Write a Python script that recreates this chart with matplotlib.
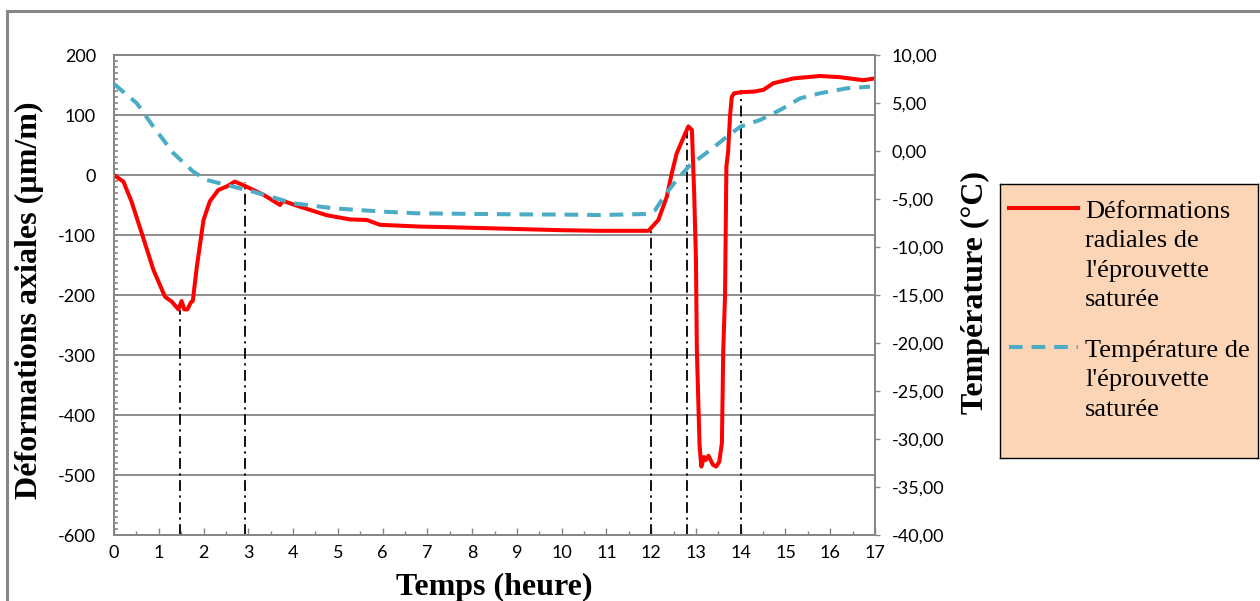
import numpy as np
import matplotlib
matplotlib.use("Agg")
import matplotlib.pyplot as plt
from matplotlib.patches import Rectangle
from matplotlib.lines import Line2D
from matplotlib.ticker import MultipleLocator, FuncFormatter

# --- donnees ---
t_def = [0, 0.21, 0.39, 0.62, 0.88, 1.14, 1.29, 1.44, 1.51, 1.57, 1.64, 1.72, 1.76,
         1.85, 2.0, 2.14, 2.33, 2.52, 2.70, 2.89, 3.34, 3.71, 3.77, 4.16, 4.75, 5.27,
         5.65, 5.94, 6.84, 7.5, 8.0, 8.5, 9.0, 9.5, 10.0, 10.86, 11.94, 12.16, 12.35,
         12.46, 12.57, 12.76, 12.83, 12.91, 12.96, 13.0, 13.02, 13.08, 13.12, 13.18,
         13.22, 13.28, 13.38, 13.45, 13.52, 13.58, 13.61, 13.65, 13.68, 13.72, 13.76,
         13.80, 13.85, 14.0, 14.3, 14.51, 14.73, 15.18, 15.77, 16.22, 16.74, 17.0]
deform = [0, -11, -44, -97, -158, -203, -211, -224, -210, -224, -224, -212, -210,
          -153, -75, -44, -25, -19, -11, -17, -33, -50, -43, -53, -67, -74,
          -75, -83, -86, -87, -88, -89, -90, -91, -92, -93, -93, -75, -36,
          3, 36, 69, 81, 75, -30, -140, -290, -450, -486, -470,
          -475, -468, -483, -486, -478, -447, -292, -200, 14, 40, 97,
          130, 136, 138, 139, 142, 153, 161, 165, 163, 158, 161]

t_temp = [0.0, 0.02, 0.51, 0.88, 1.33, 1.77, 2.07, 2.52, 3.11, 4.01, 4.90, 6.02, 6.76,
          8.0, 9.0, 10.0, 10.86, 11.9, 12.09, 12.31, 12.57, 12.87, 13.32, 13.69,
          13.99, 14.43, 14.88, 15.33, 15.77, 16.37, 16.89]
temp = [7.0, 6.9, 4.97, 2.53, -0.24, -2.15, -3.02, -3.54, -4.24, -5.45, -5.97, -6.32,
        -6.49, -6.55, -6.6, -6.62, -6.67, -6.56, -6.15, -4.58, -3.02, -1.46, 0.10,
        1.49, 2.53, 3.23, 4.27, 5.49, 6.01, 6.53, 6.70]

# reperes verticaux (temps, haut du trait)
t_rep = [1.47, 2.92, 12.0, 12.8, 14.0]
v_rep = [-225, -12, -93, 80, 142]

ROUGE = "#FF0000"
BLEU = "#4BACC6"
GRIS = "#868686"
SERIF = "Liberation Serif"
SANS = "Lato"

fig = plt.figure(figsize=(12.6, 6.01), dpi=100)
ax = fig.add_axes([114/1260, 1-535/601, 761/1260, 480/601])
ax2 = ax.twinx()

# cadre exterieur
fig.add_artist(Rectangle((7/1260, -0.1), 1.2, 1.1-10.5/601, transform=fig.transFigure,
                         fill=False, ec=GRIS, lw=2.2))

ax.plot(t_def, deform, color=ROUGE, lw=2.9, solid_joinstyle="round", zorder=3)
ax.vlines(t_rep, -600, v_rep, colors="black", lw=1.3, linestyles=[(0, (6, 2.5, 1.2, 2.5))], zorder=2)
ax2.plot(t_temp, temp, color=BLEU, lw=2.9, dashes=(3.4, 2.2), zorder=3)

ax.set_xlim(0, 17)
ax.set_ylim(-600, 200)
ax2.set_ylim(-40, 10)

ax.xaxis.set_major_locator(MultipleLocator(1))
ax.xaxis.set_minor_locator(MultipleLocator(0.5))
ax.yaxis.set_major_locator(MultipleLocator(100))
ax.yaxis.set_minor_locator(MultipleLocator(10))
ax2.yaxis.set_major_locator(MultipleLocator(5))
ax.yaxis.set_major_formatter(FuncFormatter(lambda v, p: f"{v:.0f}"))
ax2.yaxis.set_major_formatter(FuncFormatter(lambda v, p: f"{v:.2f}".replace(".", ",")))

ax.grid(axis="y", which="major", color=GRIS, lw=1.3)
ax.set_axisbelow(True)

for a in (ax, ax2):
    for s in a.spines.values():
        s.set_color(GRIS)
        s.set_linewidth(1.3)

ax.tick_params(axis="x", which="major", direction="in", length=5, width=1, color=GRIS,
               pad=7, labelsize=13)
ax.tick_params(axis="x", which="minor", direction="in", length=3, width=1, color=GRIS)
ax.tick_params(axis="y", which="both", direction="in", length=3, width=1.2, color=GRIS,
               pad=13, labelsize=13)
ax2.tick_params(axis="y", direction="out", length=3.6, width=1, color=GRIS, pad=8.5,
                labelsize=13)
for lab in ax.get_xticklabels() + ax.get_yticklabels() + ax2.get_yticklabels():
    lab.set_family(SANS)

ax.set_xlabel("Temps (heure)", family=SERIF, fontweight="bold", fontsize=23, labelpad=9)
ax.set_ylabel("Déformations axiales (µm/m)", family=SERIF, fontweight="bold", fontsize=23)
ax.yaxis.set_label_coords(44/1260, 0.5, transform=fig.transFigure)
ax2.set_ylabel("Température (°C)", family=SERIF, fontweight="bold", fontsize=23)
ax2.yaxis.set_label_coords(961/1260, 1-292/601, transform=fig.transFigure)

# legende
lg = fig.add_axes([1000/1260, 1-458/601, 258/1260, 274/601])
lg.set_xlim(1000, 1258)
lg.set_ylim(458, 184)
lg.set_xticks([])
lg.set_yticks([])
lg.set_facecolor("#FBD5B5")
for s in lg.spines.values():
    s.set_color("black")
    s.set_linewidth(1)
lg.add_line(Line2D([1009, 1078], [208, 208], color=ROUGE, lw=2.9))
lg.add_line(Line2D([1009, 1078], [347, 347], color=BLEU, lw=2.9, dashes=(3.4, 2.2)))
lg.text(1085, 201, "Déformations\nradiales de\nl'éprouvette\nsaturée", family=SERIF,
        fontsize=19, va="top", ha="left", linespacing=1.44)
lg.text(1085, 340, "Température de\nl'éprouvette\nsaturée", family=SERIF,
        fontsize=19, va="top", ha="left", linespacing=1.44)

fig.savefig("out.png", dpi=100)
